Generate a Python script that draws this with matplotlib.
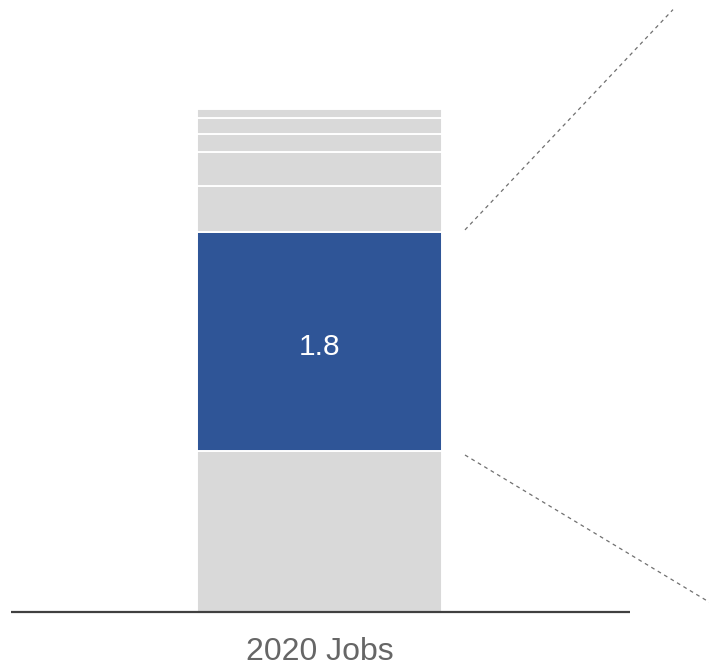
import numpy as np
import matplotlib.pyplot as plt

plt.rcParams['font.family'] = ['Liberation Sans', 'DejaVu Sans']

# Stacked segments of the 2020 jobs bar, bottom to top (millions)
category = "2020 Jobs"
segments = [1.32, 1.8, 0.38, 0.28, 0.15, 0.13, 0.07]
highlight = 1  # index of the segment pulled out with the dashed guides
label_value = "1.8"

gray = "#D9D9D9"
blue = "#2F5597"

fig = plt.figure(figsize=(7.09, 6.67), dpi=100)
ax = fig.add_axes([0, 0, 1, 1])

bottoms = np.concatenate([[0], np.cumsum(segments)[:-1]])
colors = [blue if i == highlight else gray for i in range(len(segments))]
ax.bar(np.zeros(len(segments)), segments, width=1.0, bottom=bottoms,
       color=colors, edgecolor="white", linewidth=1.4, zorder=2)

# value label inside the highlighted segment
ax.text(0, bottoms[highlight] + segments[highlight] / 2 - 0.04, label_value,
        ha="center", va="center", color="white", fontsize=21.5, zorder=3)

# dashed guides leading away from the highlighted segment
lo = bottoms[highlight]
hi = bottoms[highlight] + segments[highlight]
ax.plot([0.594, 1.443], [hi + 0.02, 4.95], color="#707070", lw=0.9,
        linestyle=(0, (3, 3)), zorder=1)
ax.plot([0.594, 1.60], [lo - 0.03, 0.07], color="#707070", lw=0.9,
        linestyle=(0, (3, 3)), zorder=1)

# baseline
ax.plot([-1.259, 1.267], [0, 0], color="#404040", lw=1.6,
        solid_capstyle="butt", zorder=4)

ax.text(0, -0.325, category, ha="center", va="center", color="#666666",
        fontsize=23)

ax.set_xlim(-1.304, 1.590)
ax.set_ylim(-0.452, 5.029)
ax.axis("off")

fig.savefig("out.png", dpi=100)
